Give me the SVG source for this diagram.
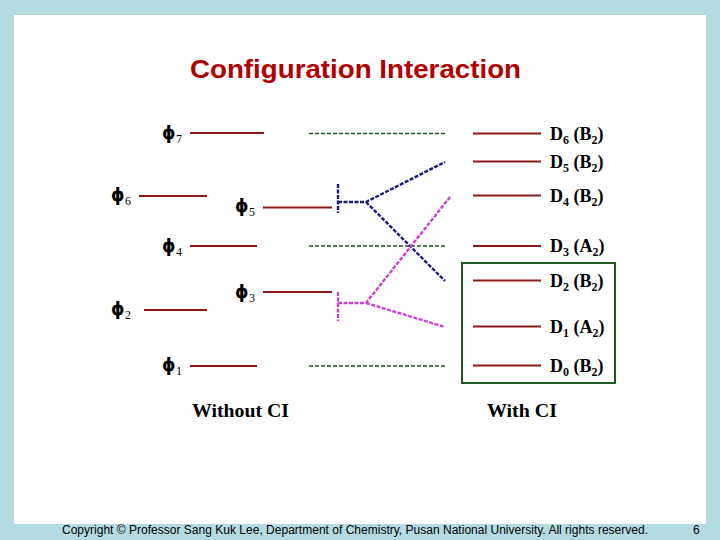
<svg xmlns="http://www.w3.org/2000/svg" width="720" height="540" viewBox="0 0 720 540">
<style>
.lvl{stroke:#8B1A1A;stroke-width:2;fill:none}
.gd{stroke:#1E5A1E;stroke-width:1.6;stroke-dasharray:4 2;fill:none}
.bl{stroke:#1A1A80;stroke-width:2.4;stroke-dasharray:4 1.5;fill:none}
.mg{stroke:#D040D0;stroke-width:2.4;stroke-dasharray:4 1.5;fill:none}
.phi{font-family:"DejaVu Sans",sans-serif;font-weight:bold;font-size:17px;fill:#000}
.sub{font-family:"Liberation Serif",serif;font-size:12px;fill:#000}
.dl{font-family:"Liberation Serif",serif;font-weight:bold;font-size:18px;fill:#000}
.ds{font-size:12px}
.cap{font-family:"Liberation Serif",serif;font-weight:bold;font-size:19px;fill:#000}
</style>
<rect x="0" y="0" width="720" height="540" fill="#B4DCE0"/>
<rect x="14" y="15" width="692" height="509" fill="#FFFFFF"/>
<text x="190" y="78" font-family="Liberation Sans,Arial,sans-serif" font-weight="bold" font-size="25" fill="#B00000" textLength="331" lengthAdjust="spacingAndGlyphs">Configuration Interaction</text>

<g id="phi7"><text class="phi" x="162" y="139">ϕ</text><text class="sub" x="176" y="143">7</text><line class="lvl" x1="190" y1="133" x2="264" y2="133"/></g>
<g id="phi6"><text class="phi" x="111" y="201">ϕ</text><text class="sub" x="125" y="205">6</text><line class="lvl" x1="139" y1="196" x2="207" y2="196"/></g>
<g id="phi5"><text class="phi" x="235" y="212">ϕ</text><text class="sub" x="249" y="216">5</text><line class="lvl" x1="263" y1="207.5" x2="332" y2="207.5"/></g>
<g id="phi4"><text class="phi" x="162" y="252">ϕ</text><text class="sub" x="176" y="256">4</text><line class="lvl" x1="190" y1="246" x2="257" y2="246"/></g>
<g id="phi3"><text class="phi" x="235" y="298">ϕ</text><text class="sub" x="249" y="302">3</text><line class="lvl" x1="263" y1="292" x2="332" y2="292"/></g>
<g id="phi2"><text class="phi" x="111" y="315">ϕ</text><text class="sub" x="125" y="319">2</text><line class="lvl" x1="144" y1="310" x2="207" y2="310"/></g>
<g id="phi1"><text class="phi" x="162" y="371">ϕ</text><text class="sub" x="176" y="375">1</text><line class="lvl" x1="190" y1="366" x2="257" y2="366"/></g>

<g id="D6"><line class="lvl" x1="473" y1="133.5" x2="541" y2="133.5"/><text class="dl" x="550" y="140">D<tspan class="ds" dy="4">6</tspan><tspan dy="-4"> (B</tspan><tspan class="ds" dy="4">2</tspan><tspan dy="-4">)</tspan></text></g>
<g id="D5"><line class="lvl" x1="473" y1="161.5" x2="541" y2="161.5"/><text class="dl" x="550" y="168">D<tspan class="ds" dy="4">5</tspan><tspan dy="-4"> (B</tspan><tspan class="ds" dy="4">2</tspan><tspan dy="-4">)</tspan></text></g>
<g id="D4"><line class="lvl" x1="473" y1="195.5" x2="541" y2="195.5"/><text class="dl" x="550" y="202">D<tspan class="ds" dy="4">4</tspan><tspan dy="-4"> (B</tspan><tspan class="ds" dy="4">2</tspan><tspan dy="-4">)</tspan></text></g>
<g id="D3"><line class="lvl" x1="473" y1="246" x2="541" y2="246"/><text class="dl" x="550" y="252">D<tspan class="ds" dy="4">3</tspan><tspan dy="-4"> (A</tspan><tspan class="ds" dy="4">2</tspan><tspan dy="-4">)</tspan></text></g>
<g id="D2"><line class="lvl" x1="473" y1="280.5" x2="541" y2="280.5"/><text class="dl" x="550" y="287">D<tspan class="ds" dy="4">2</tspan><tspan dy="-4"> (B</tspan><tspan class="ds" dy="4">2</tspan><tspan dy="-4">)</tspan></text></g>
<g id="D1"><line class="lvl" x1="473" y1="326.5" x2="541" y2="326.5"/><text class="dl" x="550" y="333">D<tspan class="ds" dy="4">1</tspan><tspan dy="-4"> (A</tspan><tspan class="ds" dy="4">2</tspan><tspan dy="-4">)</tspan></text></g>
<g id="D0"><line class="lvl" x1="473" y1="365.5" x2="541" y2="365.5"/><text class="dl" x="550" y="372">D<tspan class="ds" dy="4">0</tspan><tspan dy="-4"> (B</tspan><tspan class="ds" dy="4">2</tspan><tspan dy="-4">)</tspan></text></g>

<g id="box"><rect x="462" y="263" width="153" height="120" fill="none" stroke="#1E5A1E" stroke-width="2"/></g>

<g id="connectors">
<line class="gd" x1="309" y1="133.5" x2="445" y2="133.5"/>
<line class="gd" x1="309" y1="246" x2="445" y2="246"/>
<line class="gd" x1="309" y1="366" x2="445" y2="366"/>
<path class="bl" d="M338 184 V213 M338 202 H366 L445 162 M366 202 L445 281"/>
<path class="mg" d="M338 292 V321 M338 303 H366 L450 197 M366 303 L445 327"/>
</g>

<text class="cap" x="192" y="417" textLength="97" lengthAdjust="spacingAndGlyphs">Without CI</text>
<text class="cap" x="487" y="417" textLength="70" lengthAdjust="spacingAndGlyphs">With CI</text>
<text x="62" y="534" font-family="Liberation Sans,Arial,sans-serif" font-size="12" fill="#000" textLength="586">Copyright © Professor Sang Kuk Lee, Department of Chemistry, Pusan National University. All rights reserved.</text>
<text x="693" y="534" font-family="Liberation Sans,Arial,sans-serif" font-size="12" fill="#000">6</text>
</svg>
